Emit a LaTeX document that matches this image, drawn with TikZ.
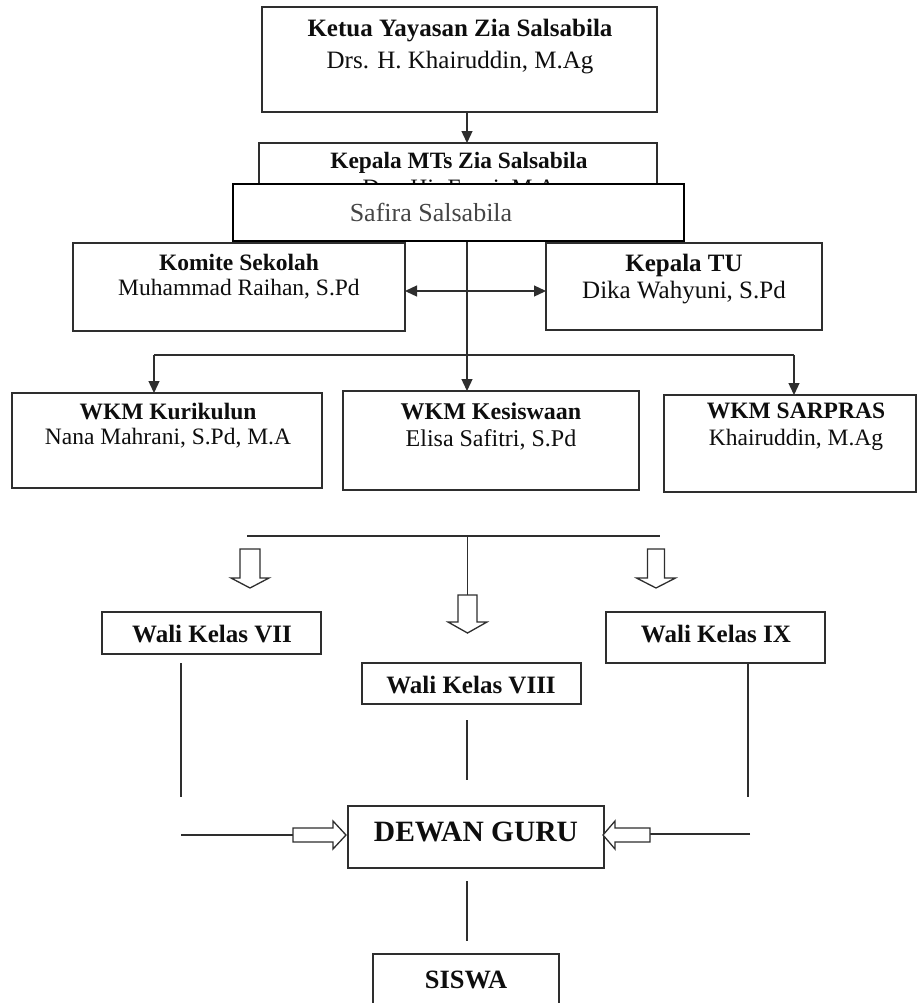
\documentclass[tikz,border=0pt]{standalone}
\usepackage{fontspec}
\setmainfont{Liberation Serif}
\usetikzlibrary{arrows.meta}
\definecolor{lc}{HTML}{2E2E2E}
\definecolor{tc}{HTML}{0E0E0E}
\definecolor{sc}{HTML}{454545}
\newcommand{\orgbox}[5]{\node[box, anchor=north west, minimum width={(#4-#2)*0.5pt}, minimum height={(#5-#3)*0.5pt}] (#1) at (#2,#3) {};}
\newcommand{\fs}[2]{\fontsize{#1}{#2}\selectfont}
\begin{document}
\begin{tikzpicture}[x=0.5pt,y=-0.5pt,
  box/.style={draw=lc, line width=0.75pt, inner sep=0pt, outer sep=0pt, fill=white},
  ln/.style={draw=lc, line width=0.65pt},
  arr/.style={ln, -{Triangle[length=6pt,width=5.5pt]}},
  darr/.style={ln, {Triangle[length=6pt,width=5.5pt]}-{Triangle[length=6pt,width=5.5pt]}},
  hol/.style={draw=lc, line width=0.65pt, fill=white, line join=miter},
  lbl/.style={inner sep=0pt, align=center, text=tc},
]
\useasboundingbox (0,0) rectangle (918,1003);
\clip (0,0) rectangle (918,1003);

% top boxes
\orgbox{ketua}{262}{7}{657}{112}
\node[lbl, font=\fs{12.5}{16}] (ketuaT) at (460,47) {\textbf{Ketua Yayasan Zia Salsabila}\\Drs. H. Khairuddin, M.Ag};

\orgbox{kepala}{259}{143}{657}{215}
\node[lbl, font=\fs{11.7}{13}] (kepalaT) at (459,163) {\textbf{Kepala MTs Zia Salsabila}};
\node[lbl, font=\fs{11.75}{13}] (kepalaN) at (459,190) {Drs. Hj. Fauzi, M.A};

\node[draw=black, line width=1pt, fill=white, inner sep=0pt, anchor=north west,
      minimum width={451*0.5pt}, minimum height={57*0.5pt}] (safira) at (232,183) {};
\node[lbl, text=sc, font=\fs{13}{15}] (safiraT) at (431,212) {Safira Salsabila};

\coordinate (cx) at (467,0);
\draw[arr] (ketua.south -| cx) -- (kepala.north -| cx);

% komite / TU
\orgbox{komite}{73}{243}{405}{331}
\node[lbl, font=\fs{11.75}{12.5}] (komiteT) at (239,277) {\textbf{Komite Sekolah}\\Muhammad Raihan, S.Pd};
\orgbox{tu}{546}{243}{822}{330}
\node[lbl, font=\fs{12.5}{13.5}] (tuT) at (684,279) {\textbf{Kepala TU}\\Dika Wahyuni, S.Pd};
\coordinate (dy) at (0,291);
\draw[darr] (komite.east |- dy) -- (tu.west |- dy);

% WKM row
\orgbox{kur}{12}{393}{322}{488}
\node[lbl, font=\fs{11.75}{12.5}] (kurT) at (168,426) {\textbf{WKM Kurikulun}\\Nana Mahrani, S.Pd, M.A};
\orgbox{kes}{343}{391}{639}{490}
\node[lbl, font=\fs{12}{13.5}] (kesT) at (491,427) {\textbf{WKM Kesiswaan}\\Elisa Safitri, S.Pd};
\orgbox{sar}{664}{395}{916}{492}
\node[lbl, font=\fs{11.75}{13.5}] (sarT) at (796,427) {\textbf{WKM SARPRAS}\\Khairuddin, M.Ag};

\draw[arr] (safira.south -| cx) -- (kes.north -| cx);
\coordinate (hl) at (154,355);
\coordinate (hr) at (794,355);
\draw[ln] (hl) -- (hr);
\draw[arr] (hl) -- (kur.north -| hl);
\draw[arr] (hr) -- (sar.north -| hr);

% wali section
\coordinate (wl) at (247,536);
\coordinate (wr) at (660,536);
\coordinate (wc) at (467.5,536);
\coordinate (wct) at (467.5,595);
\draw[ln] (wl) -- (wr);
\draw[ln] (wc) -- (wct);
\draw[hol] (240,549) -- (260,549) -- (260,578) -- (269,578) -- (250,588) -- (231,578) -- (240,578) -- cycle;
\draw[hol] (647.5,549) -- (664.5,549) -- (664.5,578) -- (675.5,578) -- (656,588) -- (636.5,578) -- (647.5,578) -- cycle;
\draw[hol] (458,595) -- (477,595) -- (477,622) -- (487,622) -- (467.5,633) -- (448,622) -- (458,622) -- cycle;

\orgbox{w7}{102}{612}{321}{654}
\node[lbl, font=\fs{12.5}{14}] (w7T) at (212,634) {\textbf{Wali Kelas VII}};
\orgbox{w8}{362}{663}{581}{704}
\node[lbl, font=\fs{12.5}{14}] (w8T) at (471,685) {\textbf{Wali Kelas VIII}};
\orgbox{w9}{606}{612}{825}{663}
\node[lbl, font=\fs{12.5}{14}] (w9T) at (716,634) {\textbf{Wali Kelas IX}};

\coordinate (l7a) at (181,663);
\coordinate (l7b) at (181,797);
\draw[ln] (l7a) -- (l7b);
\coordinate (l8a) at (467,720);
\coordinate (l8b) at (467,780);
\draw[ln] (l8a) -- (l8b);
\coordinate (l9b) at (748,797);
\draw[ln] (w9.south -| l9b) -- (l9b);

% dewan guru
\orgbox{dewan}{348}{806}{604}{868}
\node[lbl, font=\fs{14.75}{16}] (dewanT) at (476,832) {\textbf{DEWAN GURU}};
\coordinate (dla) at (181,835);
\coordinate (dlb) at (293,835);
\draw[ln] (dla) -- (dlb);
\draw[hol] (293,828) -- (333,828) -- (333,821) -- (346,835) -- (333,849) -- (333,842) -- (293,842) -- cycle;
\coordinate (dra) at (750,834);
\coordinate (drb) at (650,834);
\draw[ln] (dra) -- (drb);
\draw[hol] (650,828) -- (615,828) -- (615,821) -- (603,835) -- (615,849) -- (615,842) -- (650,842) -- cycle;

\coordinate (sa) at (467,881);
\coordinate (sb) at (467,941);
\draw[ln] (sa) -- (sb);

\orgbox{siswa}{373}{954}{559}{1015}
\node[lbl, font=\fs{13.2}{15}] (siswaT) at (466,980) {\textbf{SISWA}};
\end{tikzpicture}
\end{document}
